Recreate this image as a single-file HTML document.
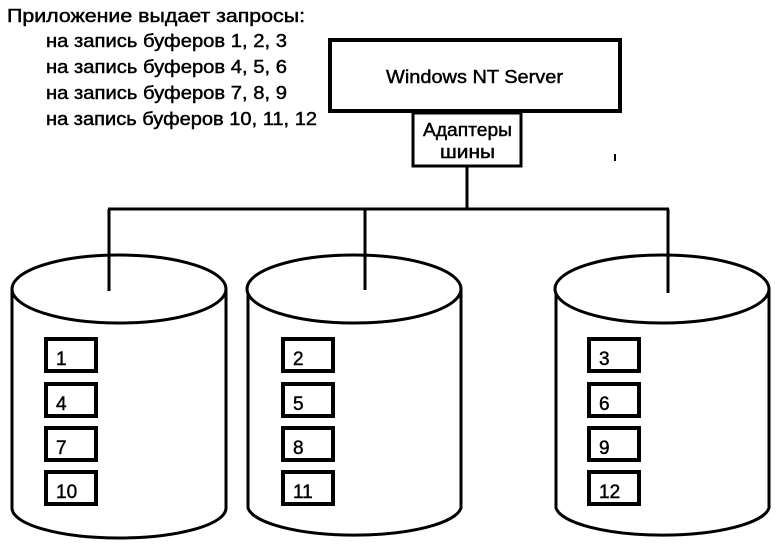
<!DOCTYPE html>
<html><head><meta charset="utf-8"><style>
html,body{margin:0;padding:0;background:#fff;}
svg{display:block;}
text{font-family:"Liberation Sans","Noto Sans CJK SC",sans-serif;fill:#000;stroke:#000;stroke-width:0.45;}
</style></head><body>
<svg width="779" height="545" viewBox="0 0 779 545" xmlns="http://www.w3.org/2000/svg">
<g font-size="18">
<text x="7" y="22" textLength="298" lengthAdjust="spacingAndGlyphs">Приложение выдает запросы:</text>
<text x="46" y="47" textLength="241" lengthAdjust="spacingAndGlyphs">на запись буферов 1, 2, 3</text>
<text x="46" y="73" textLength="241" lengthAdjust="spacingAndGlyphs">на запись буферов 4, 5, 6</text>
<text x="46" y="99" textLength="241" lengthAdjust="spacingAndGlyphs">на запись буферов 7, 8, 9</text>
<text x="46" y="125" textLength="271" lengthAdjust="spacingAndGlyphs">на запись буферов 10, 11, 12</text>
</g>
<rect x="330" y="40" width="290" height="71" fill="#fff" stroke="#000" stroke-width="4"/>
<text x="386" y="83" font-size="18" textLength="177" lengthAdjust="spacingAndGlyphs">Windows NT Server</text>
<rect x="413" y="113" width="108" height="53" fill="#fff" stroke="#000" stroke-width="3"/>
<text x="423" y="136" font-size="18" textLength="89" lengthAdjust="spacingAndGlyphs">Адаптеры</text>
<text x="440" y="158" font-size="18" textLength="55" lengthAdjust="spacingAndGlyphs">шины</text>
<g stroke="#000" stroke-width="3" fill="none">
<line x1="467" y1="166" x2="467" y2="209"/>
<line x1="108" y1="209" x2="669" y2="209"/>
</g>
<g stroke="#000" stroke-width="3" fill="#fff">
<path d="M12,289 L12,508 A107,30 0 0 0 226,508 L226,289"/>
<ellipse cx="119" cy="289" rx="107" ry="34"/>
<path d="M248,289 L248,508 A107,30 0 0 0 461,508 L461,289"/>
<ellipse cx="354" cy="289" rx="107" ry="34"/>
<path d="M556,289 L556,508 A107,30 0 0 0 769,508 L769,289"/>
<ellipse cx="662" cy="289" rx="107" ry="34"/>
</g>
<g stroke="#000" stroke-width="3">
<line x1="109" y1="209" x2="109" y2="291"/>
<line x1="365" y1="209" x2="365" y2="290"/>
<line x1="668" y1="209" x2="668" y2="293"/>
</g>
<g stroke="#000" stroke-width="4" fill="#fff">
<rect x="46" y="339" width="50" height="32"/>
<rect x="46" y="384" width="50" height="32"/>
<rect x="46" y="428" width="50" height="32"/>
<rect x="46" y="472" width="50" height="32"/>
<rect x="283" y="339" width="50" height="32"/>
<rect x="283" y="384" width="50" height="32"/>
<rect x="283" y="428" width="50" height="32"/>
<rect x="283" y="472" width="50" height="32"/>
<rect x="589" y="339" width="50" height="32"/>
<rect x="589" y="384" width="50" height="32"/>
<rect x="589" y="428" width="50" height="32"/>
<rect x="589" y="472" width="50" height="32"/>
</g>
<g font-size="19">
<text x="56" y="365">1</text><text x="56" y="410">4</text><text x="56" y="454">7</text><text x="56" y="498">10</text>
<text x="293" y="365">2</text><text x="293" y="410">5</text><text x="293" y="454">8</text><text x="293" y="498">11</text>
<text x="599" y="365">3</text><text x="599" y="410">6</text><text x="599" y="454">9</text><text x="599" y="498">12</text>
</g>
<line x1="615" y1="154" x2="615" y2="161" stroke="#000" stroke-width="2"/>
</svg>
</body></html>
